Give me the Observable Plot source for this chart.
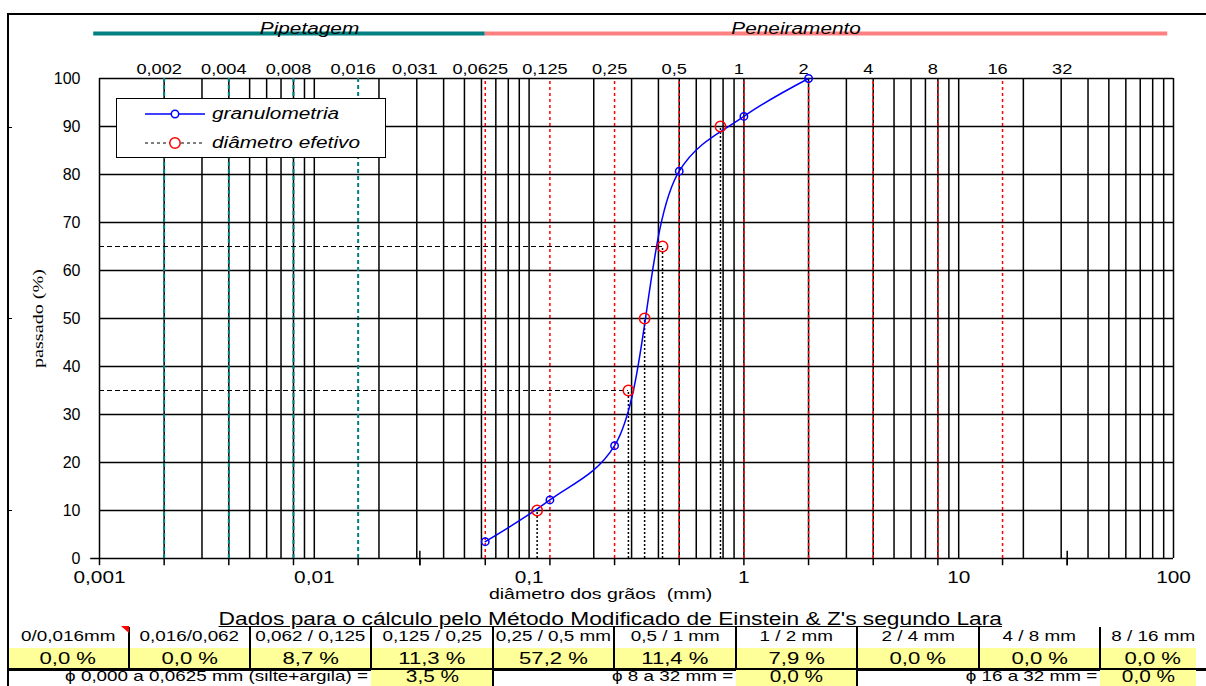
<!DOCTYPE html>
<html><head><meta charset="utf-8">
<script src="https://cdn.jsdelivr.net/npm/d3@7"></script>
<script src="https://cdn.jsdelivr.net/npm/@observablehq/plot@0.6"></script>
<style>
body{margin:0;background:#fff;font-family:"Liberation Sans",Arial,sans-serif;color:#000;}
#page{position:relative;width:1206px;height:686px;overflow:hidden;background:#fff;}
#chart{position:absolute;left:0;top:0;}
#frame{position:absolute;left:7px;top:13px;width:1210px;height:690px;border-left:2px solid #000;border-top:2px solid #000;pointer-events:none;}
.abs{position:absolute;}
.st{display:inline-block;transform-origin:center center;white-space:nowrap;}
</style></head><body>
<div id="page"><div id="chart"></div><div id="legend" class="abs"></div><div id="table"></div><div id="frame"></div></div>
<script>
// ---------------- data ----------------
const sieveSizes = [0.0625, 0.125, 0.25, 0.5, 1, 2];          // mm
const passado = [3.5, 12.2, 23.5, 80.7, 92.1, 100];           // % passing
const effPassado = [10, 35, 50, 65, 90];                      // D10 D35 D50 D65 D90
const effDiam = [0.109, 0.290, 0.345, 0.418, 0.778];          // mm
const phiValues = [0.002, 0.004, 0.008, 0.016, 0.031, 0.0625, 0.125, 0.25, 0.5, 1, 2, 4, 8, 16, 32];
const phiLabels = ["0,002","0,004","0,008","0,016","0,031","0,0625","0,125","0,25","0,5","1","2","4","8","16","32"];
const pipetteLines = [0.002, 0.004, 0.008, 0.016];
const sieveLines = [0.0625, 0.125, 0.25, 0.5, 1, 2, 4, 8, 16];
const shortTicks = [0.031, 32];
const yTicks = [0, 10, 20, 30, 40, 50, 60, 70, 80, 90, 100];
const xTicks = [0.001, 0.01, 0.1, 1, 10, 100];
const xTickLabels = ["0,001", "0,01", "0,1", "1", "10", "100"];
const decades = [0.001, 0.01, 0.1, 1, 10];
const bandNames = ["Pipetagem", "Peneiramento"];
const bandFrom = [0.00094, 0.0625];
const bandTo = [0.0625, 94];
const bandLabelAt = [0.0095, 1.75];
const bandColors = ["#008080", "#ff8080"];
const xLabel = "diâmetro dos grãos\u00a0\u00a0(mm)";
const yLabel = "passado (%)";
const legendLabels = ["granulometria", "diâmetro efetivo"];
const tableTitle = "Dados para o cálculo pelo Método Modificado de Einstein & Z's segundo Lara";
const classLabels = ["0/0,016mm","0,016/0,062","0,062 / 0,125","0,125 / 0,25","0,25 / 0,5 mm","0,5 / 1 mm","1 / 2 mm","2 / 4 mm","4 / 8 mm","8 / 16 mm"];
const classPercent = [0.0, 0.0, 8.7, 11.3, 57.2, 11.4, 7.9, 0.0, 0.0, 0.0];
const summaryLabels = ["ϕ 0,000 a 0,0625 mm (silte+argila) =", "ϕ 8 a 32 mm =", "ϕ 16 a 32 mm ="];
const summaryPercent = [3.5, 0.0, 0.0];

// ---------------- derived tables ----------------
const minorGrid = decades.flatMap(d => d3.range(1, 10).map(k => +(d * k).toPrecision(3))).concat([100]);
const granulo = sieveSizes.map((d, i) => ({d, p: passado[i]}));
const eff = effDiam.map((d, i) => ({d, p: effPassado[i]}));
const bands = bandNames.map((name, i) => ({name, from: bandFrom[i], to: bandTo[i], at: bandLabelAt[i], color: bandColors[i]}));
const phi = phiValues.map((v, i) => ({v, label: phiLabels[i]}));
const FONT = "Liberation Sans, Arial, sans-serif";

const chart = Plot.plot({
  width: 1206, height: 600,
  marginLeft: 99, marginRight: 33, marginTop: 78, marginBottom: 42,
  style: {background: "transparent", fontFamily: FONT, color: "#000", overflow: "visible"},
  x: {type: "log", domain: [0.001, 100]},
  y: {domain: [0, 100]},
  marks: [
    Plot.ruleX(minorGrid, {y1: 0, y2: 100, stroke: "#000", strokeWidth: 1.5}),
    Plot.ruleY(yTicks.filter(v => v > 0), {stroke: "#000", strokeWidth: 1.5}),
    Plot.ruleY([0], {x1: 0.00091, x2: 100, stroke: "#000", strokeWidth: 1.5}),
    Plot.ruleX(pipetteLines, {y1: 0, y2: 100, stroke: "#008080", strokeWidth: 2, strokeDasharray: "4,3"}),
    Plot.ruleX(sieveLines, {y1: 0, y2: 100, stroke: "#ff0000", strokeWidth: 1.5, strokeDasharray: "3,3"}),
    Plot.ruleX([0.001, ...phiValues], {y1: 0, y2: -1.5, stroke: "#000", strokeWidth: 1.5}),
    Plot.ruleX(shortTicks, {y1: -1.5, y2: 1.5, stroke: "#000", strokeWidth: 1.5}),
    Plot.ruleY(eff, {y: "p", x1: 0.001, x2: "d", stroke: "#000", strokeWidth: 1, strokeDasharray: "5,3"}),
    Plot.ruleX(eff, {x: "d", y1: 0, y2: "p", stroke: "#000", strokeWidth: 1.5, strokeDasharray: "2,2"}),
    Plot.line(granulo, {x: "d", y: "p", curve: "catmull-rom", stroke: "#0000ff", strokeWidth: 1.5}),
    Plot.dot(granulo, {x: "d", y: "p", r: 3.7, stroke: "#0000ff", strokeWidth: 1.5, fill: "none"}),
    Plot.dot(eff, {x: "d", y: "p", r: 5.2, stroke: "#ff0000", strokeWidth: 1.5, fill: "none"}),
    Plot.ruleY(bands, {y: 100, x1: "from", x2: "to", stroke: "color", strokeWidth: 4, dy: -45}),
    Plot.text(bands, {x: "at", text: "name", frameAnchor: "top", dy: -56, fontSize: 16, fontStyle: "italic", fill: "#000"}),
    Plot.text(phi, {x: "v", text: "label", frameAnchor: "top", dy: -14, dx: -5, fontSize: 14, fill: "#000"}),
    Plot.axisY(yTicks, {tickSize: 0, tickPadding: 19, fontSize: 16, label: null}),
    Plot.axisX(xTicks, {tickSize: 0, tickPadding: 13, fontSize: 16, label: null,
      tickFormat: d => xTickLabels[xTicks.indexOf(d)]}),
    Plot.text([xLabel], {frameAnchor: "bottom", dx: -36, dy: 40, fontSize: 15, fill: "#000"}),
    Plot.text([yLabel], {frameAnchor: "left", textAnchor: "middle", dx: -61, rotate: -90, fontSize: 15.5, fontFamily: "Liberation Serif, serif", fill: "#000"})
  ]
});
document.getElementById("chart").appendChild(chart);

// horizontal widening of the sans texts (the reference lettering is wide)
const STRETCH = 1.3;
chart.querySelectorAll("text").forEach(t => {
  if ((t.getAttribute("font-family") || "").includes("Serif")) return;
  const g = t.closest("g[aria-label]");
  if (g && g.getAttribute("aria-label") === "y-axis tick label") return;
  const els = t.querySelectorAll("tspan").length ? t.querySelectorAll("tspan") : [t];
  els.forEach(el => {
    const w = el.getComputedTextLength();
    if (w > 0) { el.setAttribute("textLength", w * STRETCH); el.setAttribute("lengthAdjust", "spacingAndGlyphs"); }
  });
});

// ---------------- legend ----------------
const legend = document.getElementById("legend");
Object.assign(legend.style, {left: "116px", top: "98px", width: "268px", height: "58px", border: "1.5px solid #000", background: "#fff"});
const legendStyles = [
  {stroke: "#0000ff", dash: null, dot: "#0000ff", r: 3.7, w: 1.5},
  {stroke: "#000", dash: "3,3", dot: "#ff0000", r: 5.2, w: 1}
];
legendLabels.forEach((lab, i) => {
  const s = legendStyles[i];
  const cy = i === 0 ? 15 : 44;
  const svg = d3.create("svg").attr("width", 64).attr("height", 16)
    .style("position", "absolute").style("left", "27px").style("top", (cy - 8) + "px");
  svg.append("line").attr("x1", 1).attr("x2", 61).attr("y1", 8).attr("y2", 8)
    .attr("stroke", s.stroke).attr("stroke-width", s.w).attr("stroke-dasharray", s.dash);
  svg.append("circle").attr("cx", 31).attr("cy", 8).attr("r", s.r).attr("fill", "#fff")
    .attr("stroke", s.dot).attr("stroke-width", 1.5);
  legend.appendChild(svg.node());
  const txt = document.createElement("div");
  txt.className = "abs";
  Object.assign(txt.style, {left: "95px", top: (cy - 10) + "px", fontSize: "16px", fontStyle: "italic", lineHeight: "19px"});
  txt.innerHTML = `<span class="st" style="transform:scaleX(${STRETCH});transform-origin:left center">${lab}</span>`;
  legend.appendChild(txt);
});

// ---------------- table ----------------
const table = document.getElementById("table");
const fmt = v => v.toFixed(1).replace(".", ",") + " %";
const colEdges = [7, 129, 250, 371, 493, 614, 736, 857, 979, 1100, 1206];
function box(left, top, width, height, css, html) {
  const d = document.createElement("div");
  d.className = "abs";
  Object.assign(d.style, {left: left + "px", top: top + "px", width: width + "px", height: height + "px"}, css || {});
  if (html != null) d.innerHTML = html;
  table.appendChild(d);
  return d;
}
const stretchSpan = (s, origin) => `<span class="st" style="transform:scaleX(${STRETCH});transform-origin:${origin || "center"} center">${s}</span>`;
// title
box(0, 608, 1220, 22, {textAlign: "center", fontSize: "17.5px", lineHeight: "22px"},
  `<span class="st" style="transform:scaleX(${STRETCH});text-decoration:underline">${tableTitle}</span>`);
// yellow value row
box(8, 648, 1188, 20, {background: "#ffff99"});
classLabels.forEach((lab, i) => {
  const l = colEdges[i], w = colEdges[i + 1] - colEdges[i];
  box(l, 627, w, 19, {textAlign: "center", fontSize: "14.5px", lineHeight: "19px"}, stretchSpan(lab));
  box(l, 648, w, 20, {textAlign: "center", fontSize: "17px", lineHeight: "21px"}, stretchSpan(fmt(classPercent[i])));
});
for (let i = 1; i < colEdges.length - 1; i++) box(colEdges[i] - 1, 627, 2, 42, {background: "#000"});
// thick separator
box(7, 668, 1210, 2.5, {background: "#000"});
// summary row
const summaryCols = [3, 6, 9];
summaryLabels.forEach((lab, i) => {
  const c = summaryCols[i];
  const l = colEdges[c], r = i === 2 ? 1196 : colEdges[c + 1];
  box(l, 670, r - l, 16, {background: "#ffff99"});
  box(l, 669, r - l, 15, {textAlign: "center", fontSize: "16px", lineHeight: "15px"}, stretchSpan(fmt(summaryPercent[i])));
  box(l - 400, 669, 397, 15, {textAlign: "right", fontSize: "14.5px", lineHeight: "15px"}, stretchSpan(lab, "right"));
});
[493, 857].forEach(x => box(x - 1, 670, 2, 16, {background: "#000"}));
// comment indicator triangle
box(121, 626, 0, 0, {borderTop: "7px solid #ff0000", borderLeft: "8px solid transparent", width: "0px", height: "0px"});
// small stubs on left border
[127, 318, 510].forEach(y => box(8, y, 4, 1, {background: "#000"}));
</script></body></html>
